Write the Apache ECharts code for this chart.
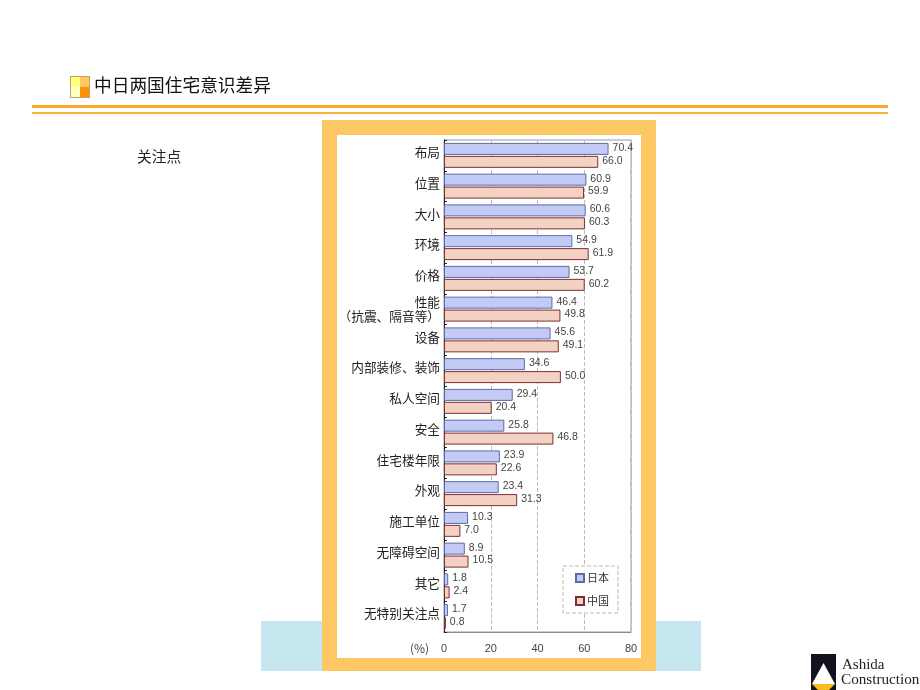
<!DOCTYPE html>
<html><head><meta charset="utf-8">
<style>html,body{margin:0;padding:0;background:#fff}#c{width:920px;height:690px}</style>
<script src="https://cdn.jsdelivr.net/npm/echarts@6/dist/echarts.min.js"></script>
</head><body><div id="c"></div>
<script>
const categories = ['布局','位置','大小','环境','价格','性能\n（抗震、隔音等）','设备','内部装修、装饰','私人空间','安全','住宅楼年限','外观','施工单位','无障碍空间','其它','无特别关注点'];
const japan = [70.4,60.9,60.6,54.9,53.7,46.4,45.6,34.6,29.4,25.8,23.9,23.4,10.3,8.9,1.8,1.7];
const china = [66.0,59.9,60.3,61.9,60.2,49.8,49.1,50.0,20.4,46.8,22.6,31.3,7.0,10.5,2.4,0.8];
const cjk = '"Noto Sans CJK SC","Noto Sans",sans-serif';
const latin = '"Liberation Sans",Arial,sans-serif';
const rect = (x,y,w,h,fill,z) => ({type:'rect',z:z||-10,silent:true,shape:{x,y,width:w,height:h},style:{fill}});
const valueLabel = {show:true,position:'right',distance:4,offset:[0,-1],fontFamily:latin,fontSize:10.5,color:'#444',formatter:p=>p.value.toFixed(1)};
const chart = echarts.init(document.getElementById('c'),null,{renderer:'canvas'});
chart.setOption({
  animation:false,
  backgroundColor:'#fff',
  graphic:{elements:[
    rect(261,621,440,50,'#c5e6ee',-30),
    rect(322,120,334,551,'#fdc763',-20),
    rect(337,135,304,523,'#ffffff',-10),
    rect(32,105,856,3,'#fba92e',-10),
    rect(32,112,856,2,'#fbb040',-10),
    rect(70,76,20,22,'#c99a6c',-10),
    rect(71,77,9,10,'#ffff80',-9),
    rect(80,77,9,10,'#ffc860',-9),
    rect(71,87,9,10,'#ffffc8',-9),
    rect(80,87,9,10,'#fb9400',-9),
    {type:'text',z:5,silent:true,x:94,y:76,style:{text:'中日两国住宅意识差异',font:'17.7px '+cjk,fill:'#111'}},
    {type:'text',z:5,silent:true,x:137,y:149,style:{text:'关注点',font:'14.7px '+cjk,fill:'#222'}},
    {type:'text',z:5,silent:true,x:410,y:642,style:{text:'(%)',font:'12px '+cjk,fill:'#444'}},
    rect(811,654,25,36,'#14121e',-9),
    {type:'polygon',z:-8,silent:true,shape:{points:[[823.5,663],[812,684],[835,684]]},style:{fill:'#fff'}},
    {type:'polygon',z:-8,silent:true,shape:{points:[[812,684],[835,684],[829,690],[818,690]]},style:{fill:'#fbbc20'}},
    {type:'text',z:5,silent:true,x:842,y:658,style:{text:'Ashida',font:'15px "Liberation Serif",serif',fill:'#222'}},
    {type:'text',z:5,silent:true,x:841,y:673,style:{text:'Construction',font:'15.2px "Liberation Serif",serif',fill:'#222'}}
  ]},
  grid:{left:444,top:140,width:187,height:492,show:true,borderColor:'#9a9a9a',borderWidth:1,backgroundColor:'transparent'},
  legend:{
    orient:'vertical',left:563,top:566,padding:[5,9,5,12],itemGap:9,itemWidth:8,itemHeight:8,
    icon:'rect',
    backgroundColor:'#fff',borderColor:'#b8b8b8',borderWidth:1,borderType:'dashed',
    textStyle:{fontFamily:cjk,fontSize:11,color:'#333',padding:[0,0,0,-2],lineHeight:14},
    data:['日本','中国']
  },
  xAxis:{
    type:'value',min:0,max:80,interval:20,
    axisLine:{show:true,lineStyle:{color:'#8a8a8a'}},axisTick:{show:false},
    axisLabel:{fontFamily:latin,fontSize:11,color:'#444',margin:11,showMaxLabel:true},
    splitLine:{show:true,lineStyle:{color:'#c4b4c8',type:'dashed'}}
  },
  yAxis:{
    type:'category',inverse:true,data:categories,
    axisLine:{show:true,lineStyle:{color:'#222'}},
    axisTick:{show:true,inside:true,length:3,lineStyle:{color:'#222'}},
    axisLabel:{
      margin:4,interval:0,
      formatter:v=>v.includes('\n')
        ? v.split('\n').map(s=>'{t|'+s+'}').join('\n')
        : '{t|'+v+'}\n{s| }',
      rich:{
        t:{fontFamily:cjk,fontSize:12.7,color:'#222',lineHeight:14},
        s:{fontSize:4,lineHeight:6}
      }
    }
  },
  series:[
    {name:'日本',type:'bar',data:japan,barWidth:12,barGap:'8%',
      itemStyle:{color:'#c3caf6',borderColor:'#5c6aa6',borderWidth:1},label:valueLabel},
    {name:'中国',type:'bar',data:china,barWidth:12,barGap:'8%',
      itemStyle:{color:'#f4d2c3',borderColor:'#7d3030',borderWidth:1},label:valueLabel}
  ]
});
</script></body></html>
